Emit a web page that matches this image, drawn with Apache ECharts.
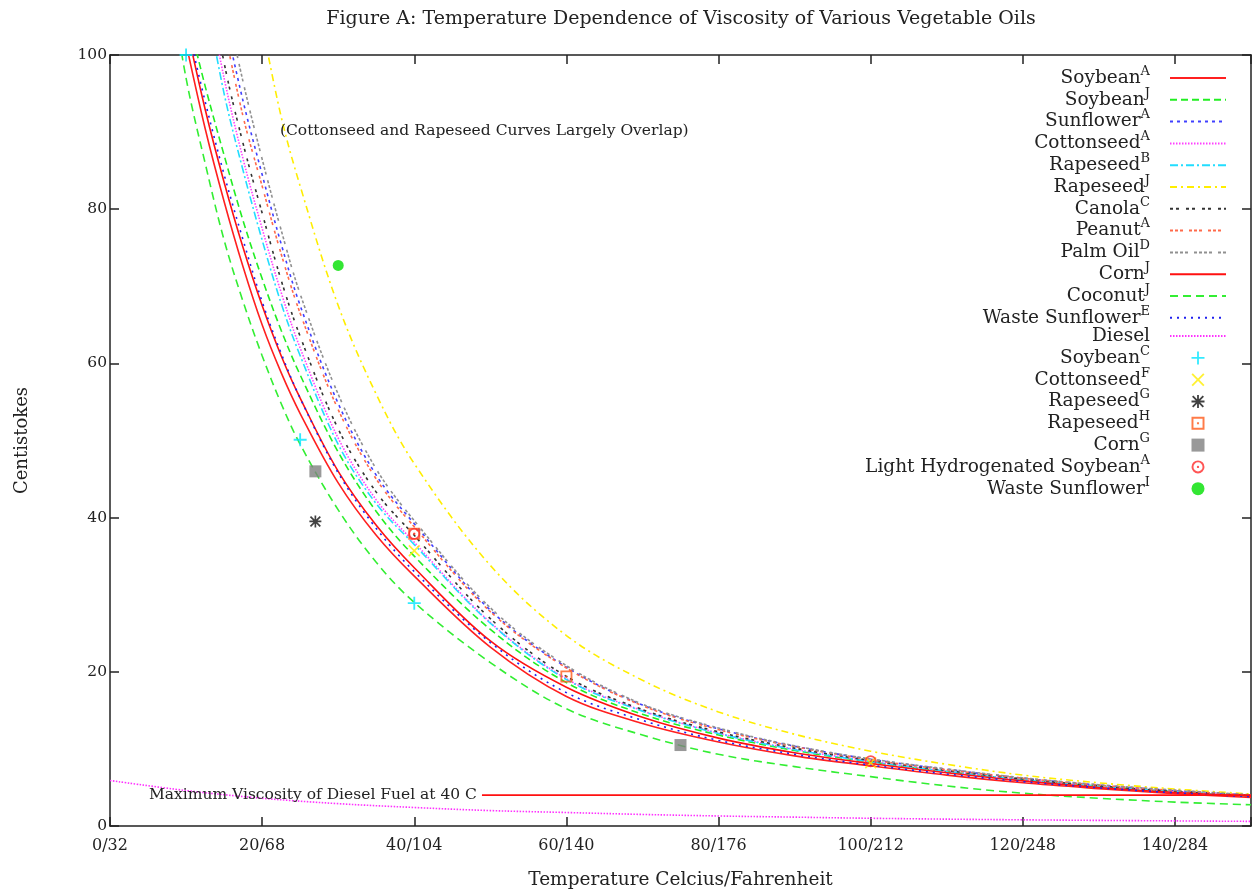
<!DOCTYPE html>
<html><head><meta charset="utf-8">
<script src="https://cdn.jsdelivr.net/npm/echarts@6/dist/echarts.min.js"></script>
<style>html,body{margin:0;padding:0;background:#fff}#c{width:1254px;height:895px}</style>
</head><body><div id="c"></div>
<script>
// ---- data ----
const tempGrid = [7.5, 10, 12.5, 15, 17.5, 20, 22.5, 25, 30, 35, 40, 50, 60, 70, 80, 90, 100, 110, 120, 130, 140, 150];
const soybeanA   = [null, 101.5, 90.5, 81, 72.5, 65, 58.8, 53.5, 44.5, 37.7, 32.4, 23.2, 16.8, 13.3, 10.9, 9.1, 7.8, 6.6, 5.6, 4.85, 4.2, 3.7];
const soybeanJ   = [null, 106, 96, 87, 78.5, 71, 64.3, 58.5, 48.5, 40.8, 35.0, 25.5, 18.6, 14.5, 11.8, 9.8, 8.3, 7.05, 6.0, 5.15, 4.45, 3.9];
const sunflowerA = [null, null, null, 105, 94, 84.5, 75.5, 67.5, 54.8, 45.5, 39.2, 28.0, 20.6, 15.7, 12.6, 10.35, 8.65, 7.35, 6.2, 5.3, 4.6, 4.0];
const cottonseedA= [null, null, 110, 97, 86.5, 77.5, 69.2, 62, 50.3, 42.3, 36.8, 26.4, 19.1, 14.95, 12.05, 9.95, 8.4, 7.1, 6.0, 5.15, 4.45, 3.9];
const rapeseedB  = [null, null, 108, 95, 85, 76, 67.8, 61, 49.5, 41.8, 36.5, 26.3, 19.0, 14.9, 12.0, 9.9, 8.35, 7.1, 6.0, 5.15, 4.45, 3.9];
const rapeseedJ  = [null, null, null, null, null, 104, 92, 83, 67.5, 56, 47, 33.8, 24.7, 18.9, 14.8, 11.9, 9.7, 8.0, 6.6, 5.6, 4.8, 4.15];
const canolaC    = [null, null, 113, 99, 88.5, 79.5, 70.8, 63.5, 51.5, 43.3, 37.7, 26.9, 19.4, 15.1, 12.2, 10.1, 8.5, 7.2, 6.1, 5.2, 4.5, 3.95];
const peanutA    = [null, null, null, 103.5, 92, 83, 74.2, 66.5, 54, 45, 38.8, 27.8, 20.5, 15.6, 12.5, 10.3, 8.6, 7.3, 6.2, 5.3, 4.6, 4.0];
const palmD      = [null, null, null, 108, 96.5, 86.5, 77.3, 69, 56, 46.3, 39.6, 28.3, 20.8, 15.8, 12.7, 10.4, 8.7, 7.4, 6.25, 5.35, 4.65, 4.05];
const cornJ      = [null, 104, 93, 83.5, 75, 67.5, 61, 55.5, 46, 39, 33.5, 24.0, 18.0, 14.1, 11.4, 9.5, 8.1, 6.9, 5.85, 5.0, 4.35, 3.85];
const coconutJ   = [112, 97, 86, 76, 68, 61, 54.8, 49.5, 41, 34.2, 29.0, 21.2, 15.2, 11.8, 9.3, 7.7, 6.4, 5.2, 4.25, 3.6, 3.1, 2.75];
const wasteSunE  = [null, 104.5, 94, 84.5, 76, 68, 61.3, 55.5, 45.8, 38.6, 33.0, 23.8, 17.3, 13.7, 11.1, 9.3, 7.9, 6.75, 5.75, 4.95, 4.3, 3.8];
const dieselTemp = [0, 10, 20, 30, 40, 50, 60, 70, 80, 90, 100, 120, 150];
const dieselVisc = [5.9, 4.6, 3.6, 2.9, 2.4, 2.0, 1.75, 1.5, 1.3, 1.15, 1.0, 0.8, 0.6];

const soybeanC    = [[10, 100], [25, 50.1], [40, 28.9]];
const cottonseedF = [[40, 35.7], [100, 8.2]];
const rapeseedG   = [[27, 39.5]];
const rapeseedH   = [[40, 37.9], [60, 19.4]];
const cornG       = [[27, 46.0], [75, 10.5]];
const lightHydSoy = [[40, 37.9], [100, 8.4]];
const wasteSunI   = [[30, 72.7]];

const dieselLimit = [[48.9, 4], [150, 4]];
const xTickLabels = {0:'0/32', 20:'20/68', 40:'40/104', 60:'60/140', 80:'80/176', 100:'100/212', 120:'120/248', 140:'140/284'};

// ---- chart ----
const FONT = 'DejaVu Serif';
const chart = echarts.init(document.getElementById('c'));

function toXY(values) {
  return tempGrid.map((t, i) => [t, values[i]]).filter(p => p[1] != null);
}
function lineS(name, pts, color, dash, width) {
  return {
    name, type: 'line', data: pts, symbol: 'none', smooth: 0.35,
    clip: true, z: 2,
    lineStyle: { color, width: width || 1.6, type: dash },
    itemStyle: { color }, emphasis: { disabled: true }, silent: true
  };
}
const PLUS = 'path://M4.3,0H5.7V4.3H10V5.7H5.7V10H4.3V5.7H0V4.3H4.3Z';
const XMARK = 'path://M1,0L5,4L9,0L10,1L6,5L10,9L9,10L5,6L1,10L0,9L4,5L0,1Z';
const STAR = 'path://M4.3,0H5.7V10H4.3Z M0,4.3H10V5.7H0Z M1.4,0.4L9.6,8.6L8.6,9.6L0.4,1.4Z M8.6,0.4L9.6,1.4L1.4,9.6L0.4,8.6Z';
const BOXDOT = 'path://M0,0H10V10H0Z M1.5,1.5V8.5H8.5V1.5Z M4.2,4.2H5.8V5.8H4.2Z';
const SQUARE = 'path://M0,0H10V10H0Z';
const RINGDOT = 'path://M5,0A5,5 0 1 1 5,10A5,5 0 1 1 5,0Z M5,1.5A3.5,3.5 0 1 0 5,8.5A3.5,3.5 0 1 0 5,1.5Z M5,4.1A0.9,0.9 0 1 1 5,5.9A0.9,0.9 0 1 1 5,4.1Z';

function scatS(name, pts, color, symbol, size) {
  return {
    name, type: 'scatter', data: pts, symbol, symbolSize: size,
    itemStyle: { color }, z: 4, emphasis: { disabled: true }, silent: true
  };
}

const series = [
  lineS('SoybeanA', toXY(soybeanA), '#ff2020', 'solid'),
  lineS('SoybeanJ', toXY(soybeanJ), '#22ee22', [7, 4]),
  lineS('SunflowerA', toXY(sunflowerA), '#4040ff', [3, 4]),
  lineS('CottonseedA', toXY(cottonseedA), '#ff40ff', [1.5, 1.5]),
  lineS('RapeseedB', toXY(rapeseedB), '#22ddff', [8, 3, 2, 3]),
  lineS('RapeseedJ', toXY(rapeseedJ), '#ffee00', [7, 4, 2, 4]),
  lineS('CanolaC', toXY(canolaC), '#333333', [3, 3, 3, 7]),
  lineS('PeanutA', toXY(peanutA), '#ff6a4a', [3, 2, 3, 2, 3, 6]),
  lineS('PalmD', toXY(palmD), '#909090', [3, 2, 3, 2, 3, 2, 3, 6]),
  lineS('CornJ', toXY(cornJ), '#ff1010', 'solid'),
  lineS('CoconutJ', toXY(coconutJ), '#33ee33', [8, 5]),
  lineS('WasteSunE', toXY(wasteSunE), '#2020ee', [2, 5]),
  lineS('Diesel', dieselTemp.map((t, i) => [t, dieselVisc[i]]), '#ff30ff', [1.5, 1.5]),
  scatS('SoybeanC', soybeanC, '#00e5ff', PLUS, 13),
  scatS('CottonseedF', cottonseedF, '#ffee00', XMARK, 12),
  scatS('RapeseedG', rapeseedG, '#111111', STAR, 12),
  scatS('RapeseedH', rapeseedH, '#ff5a1a', BOXDOT, 12),
  scatS('CornG', cornG, '#808080', SQUARE, 12),
  scatS('LightHydSoy', lightHydSoy, '#ff2a2a', RINGDOT, 12),
  scatS('WasteSunI', wasteSunI, '#00e000', 'circle', 11),
  {
    name: 'DieselLimit', type: 'line', symbol: 'none', silent: true, z: 3,
    lineStyle: { color: '#ff1010', width: 1.6 }, data: dieselLimit
  }
];

const legendLabels = {
  SoybeanA: ['Soybean', 'A'], SoybeanJ: ['Soybean', 'J'], SunflowerA: ['Sunflower', 'A'],
  CottonseedA: ['Cottonseed', 'A'], RapeseedB: ['Rapeseed', 'B'], RapeseedJ: ['Rapeseed', 'J'],
  CanolaC: ['Canola', 'C'], PeanutA: ['Peanut', 'A'], PalmD: ['Palm Oil', 'D'], CornJ: ['Corn', 'J'],
  CoconutJ: ['Coconut', 'J'], WasteSunE: ['Waste Sunflower', 'E'], Diesel: ['Diesel', ''],
  SoybeanC: ['Soybean', 'C'], CottonseedF: ['Cottonseed', 'F'], RapeseedG: ['Rapeseed', 'G'],
  RapeseedH: ['Rapeseed', 'H'], CornG: ['Corn', 'G'], LightHydSoy: ['Light Hydrogenated Soybean', 'A'],
  WasteSunI: ['Waste Sunflower', 'I']
};
const lineNames = series.filter(s => s.type === 'line').map(s => s.name);

const axisLineStyle = { color: '#222', width: 1.5 };
const option = {
  backgroundColor: '#fff',
  animation: false,
  grid: { left: 110, right: 2, top: 55, bottom: 68, containLabel: false },
  legend: {
    orient: 'vertical', right: 22, top: 60, align: 'right', itemWidth: 56, itemHeight: 13, itemGap: -0.7,
    selectedMode: false,
    data: Object.keys(legendLabels).map(n => lineNames.includes(n) ? { name: n, itemStyle: { opacity: 0 } } : { name: n }),
    formatter: name => {
      const l = legendLabels[name];
      return '{n|' + l[0] + '}' + (l[1] ? '{s|' + l[1] + '}' : '') + '{g|}';
    },
    textStyle: {
      rich: {
        n: { fontFamily: FONT, fontSize: 18.5, color: '#222', lineHeight: 26 },
        s: { fontFamily: FONT, fontSize: 13, color: '#222', lineHeight: 6, verticalAlign: 'top' },
        g: { width: 15 }
      }
    }
  },
  xAxis: [
    { type: 'value', min: 0, max: 150, interval: 20, position: 'bottom',
      axisLine: { onZero: false, lineStyle: axisLineStyle },
      axisTick: { inside: true, length: 9, lineStyle: axisLineStyle },
      splitLine: { show: false },
      axisLabel: { formatter: v => xTickLabels[v] || '', fontFamily: FONT, fontSize: 16, color: '#222', margin: 12 },
      name: 'Temperature Celcius/Fahrenheit', nameLocation: 'middle', nameGap: 45,
      nameTextStyle: { fontFamily: FONT, fontSize: 18.5, color: '#222' } },
    { type: 'value', min: 0, max: 150, interval: 20, position: 'top',
      axisLine: { onZero: false, lineStyle: axisLineStyle },
      axisTick: { inside: true, length: 9, lineStyle: axisLineStyle },
      splitLine: { show: false }, axisLabel: { show: false } }
  ],
  yAxis: [
    { type: 'value', min: 0, max: 100, interval: 20, position: 'left',
      axisLine: { onZero: false, lineStyle: axisLineStyle },
      axisTick: { inside: true, length: 9, lineStyle: axisLineStyle },
      splitLine: { show: false },
      axisLabel: { fontFamily: FONT, fontSize: 15.5, color: '#222', margin: 3 },
      name: 'Centistokes', nameLocation: 'middle', nameGap: 79,
      nameTextStyle: { fontFamily: FONT, fontSize: 18, color: '#222' } },
    { type: 'value', min: 0, max: 100, interval: 20, position: 'right',
      axisLine: { onZero: false, lineStyle: axisLineStyle },
      axisTick: { inside: true, length: 9, lineStyle: axisLineStyle },
      splitLine: { show: false }, axisLabel: { show: false } }
  ],
  series
};
chart.setOption(option);

const note = chart.convertToPixel({ xAxisIndex: 0, yAxisIndex: 0 }, [49.2, 90.2]);
const lim = chart.convertToPixel({ xAxisIndex: 0, yAxisIndex: 0 }, dieselLimit[0]);
chart.setOption({
  graphic: [
    { type: 'text', x: 681, y: 19, silent: true,
      style: { text: 'Figure A: Temperature Dependence of Viscosity of Various Vegetable Oils',
               align: 'center', verticalAlign: 'middle', fontFamily: FONT, fontSize: 19, fill: '#222' } },
    { type: 'text', x: note[0], y: note[1], silent: true, z: 10,
      style: { text: '(Cottonseed and Rapeseed Curves Largely Overlap)',
               align: 'center', verticalAlign: 'middle', fontFamily: FONT, fontSize: 15.5, fill: '#222' } },
    { type: 'text', x: lim[0] - 5, y: lim[1], silent: true, z: 10,
      style: { text: 'Maximum Viscosity of Diesel Fuel at 40 C',
               align: 'right', verticalAlign: 'middle', fontFamily: FONT, fontSize: 15.5, fill: '#222' } }
  ]
});
</script></body></html>
